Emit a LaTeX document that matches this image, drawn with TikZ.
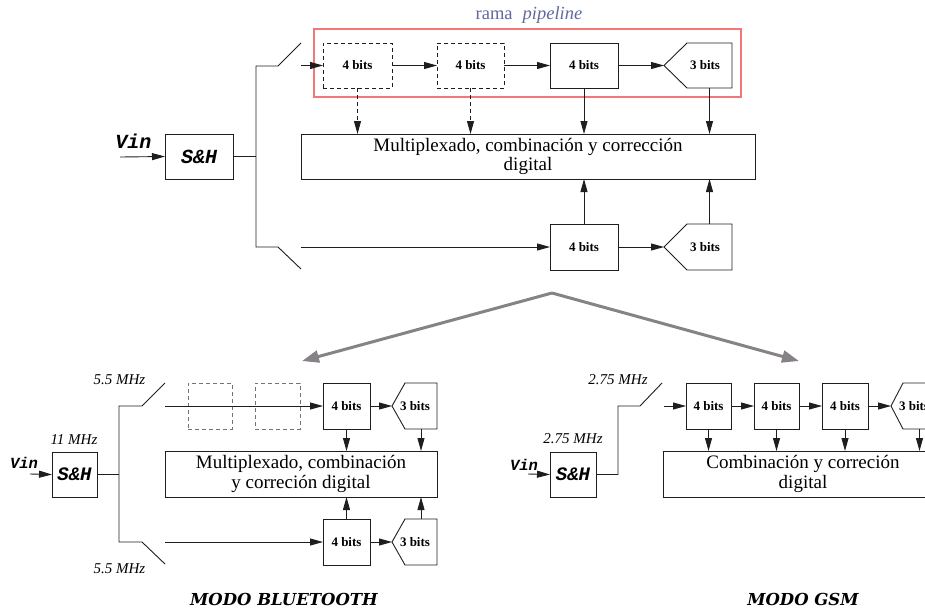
\documentclass[tikz,border=0pt]{standalone}
\usepackage{fontspec}
\setmainfont{Liberation Serif}
\newfontfamily\courfont{Liberation Mono}
\newfontfamily\heavyfont{DejaVu Serif}
\usetikzlibrary{arrows.meta,calc}
\definecolor{redline}{RGB}{240,120,120}
\definecolor{ramacol}{RGB}{95,105,160}
\definecolor{bigarrow}{RGB}{135,130,135}
\definecolor{ink}{RGB}{30,30,30}
% pentagon: name, tipx, cornerx, rightx, topy, boty, textx
\newcommand\pentbox[7]{%
  \coordinate (#1-tip) at (#2,{(#5+#6)/2});
  \draw[wire] (#3,#5) -- (#4,#5) -- (#4,#6) -- (#3,#6) -- (#1-tip) -- cycle;
  \coordinate (#1-n) at ({(#3+#4)/2},#5);
  \coordinate (#1-s) at ({(#3+#4)/2},#6);
  \node[bits] (#1) at (#7,{(#5+#6)/2}) {3 bits};}
\begin{document}
\begin{tikzpicture}[x=1pt,y=-1pt,
  wire/.style={draw=ink, line width=0.9pt},
  box/.style={draw=ink, line width=0.9pt, rectangle, inner sep=0pt, outer sep=0pt},
  dbox/.style={box, dash pattern=on 4pt off 3pt},
  bits/.style={font=\fontsize{13}{13}\selectfont\bfseries, inner sep=0pt},
  arr/.style={draw=ink, line width=0.9pt, -{Triangle[length=13pt,width=7pt]}},
  darr/.style={arr, dash pattern=on 4pt off 3pt},
  bigarr/.style={draw=bigarrow, line width=3pt, -{Triangle[length=17pt,width=12pt]}},
  shbig/.style={font=\courfont\fontsize{20}{20}\selectfont\bfseries\itshape},
  shsmall/.style={font=\courfont\fontsize{19}{19}\selectfont\bfseries\itshape},
  vinbig/.style={font=\courfont\fontsize{20}{20}\selectfont\bfseries\itshape, anchor=base, inner sep=0pt},
  vinsmall/.style={font=\courfont\fontsize{15.5}{15.5}\selectfont\bfseries\itshape, anchor=base, inner sep=0pt},
  mhz/.style={font=\fontsize{15}{15}\selectfont\itshape, anchor=base, inner sep=0pt},
  mode/.style={font=\heavyfont\fontsize{16.5}{16.5}\selectfont\bfseries\itshape, anchor=base, inner sep=0pt},
  muxtext/.style={font=\fontsize{19}{19.5}\selectfont, align=center}
]
\useasboundingbox (0,0) rectangle (925,611);
\clip (0,0) rectangle (925,611);

% ================= TOP DIAGRAM =================
\draw[draw=redline, line width=1.3pt] (314,29) rectangle (741,97);
\node[anchor=base, font=\fontsize{18.5}{18.5}\selectfont, text=ramacol, inner sep=0pt] (rama) at (529,19) {rama\hspace{10pt}\textit{pipeline}};

\node[vinbig] (vin1) at (133.5,148) {Vin};
\coordinate (vin1s) at (120,157);
\node[box, minimum width=68pt, minimum height=45pt, shbig] (sh1) at (199,156.5) {S\&H};
\coordinate (j1) at (256,156.5);
\coordinate (j1t) at (256,66);
\coordinate (j1b) at (256,247);
\coordinate (s1t) at (278,66);
\coordinate (s1tt) at (301,43);
\coordinate (s1b) at (278,247);
\coordinate (s1bb) at (301,269);
\coordinate (in1t) at (301,65.5);
\coordinate (in1b) at (301,247);

\draw[arr] (vin1s) -- (sh1.west);
\draw[wire] (sh1.east) -- (j1);
\draw[wire] (s1tt) -- (s1t) -- (j1t) -- (j1b) -- (s1b) -- (s1bb);

\node[dbox, minimum width=69pt, minimum height=45pt, bits] (d1) at (357.5,65.5) {4 bits};
\node[dbox, minimum width=67pt, minimum height=45pt, bits] (d2) at (470.5,65.5) {4 bits};
\node[box, minimum width=68pt, minimum height=45pt, bits] (b1) at (584,65.5) {4 bits};
\pentbox{p1}{664}{687}{732}{43}{88}{705}

\node[box, minimum width=454pt, minimum height=45pt, muxtext] (mux1) at (528,156.5) {Multiplexado, combinación y corrección\\digital};

\node[box, minimum width=68pt, minimum height=46pt, bits] (b2) at (584,247) {4 bits};
\pentbox{p2}{664}{687}{732}{224}{270}{705}

\draw[arr] (in1t) -- (d1.west);
\draw[arr] (d1.east) -- (d2.west);
\draw[arr] (d2.east) -- (b1.west);
\draw[arr] (b1.east) -- (p1-tip);
\draw[darr] (d1.south) -- (d1.south |- mux1.north);
\draw[darr] (d2.south) -- (d2.south |- mux1.north);
\draw[arr] (b1.south) -- (b1.south |- mux1.north);
\draw[arr] (p1-s) -- (p1-s |- mux1.north);
\draw[arr] (in1b) -- (b2.west);
\draw[arr] (b2.east) -- (p2-tip);
\draw[arr] (b2.north) -- (b2.north |- mux1.south);
\draw[arr] (p2-n) -- (p2-n |- mux1.south);

% ================= BIG GREY ARROWS =================
\coordinate (apex) at (552,293);
\coordinate (lefttip) at (302,361);
\coordinate (righttip) at (799,361);
\draw[bigarr] (apex) -- (lefttip);
\draw[bigarr] (apex) -- (righttip);

% ================= BLUETOOTH =================
\node[mhz] (f1) at (119.5,384) {5.5 MHz};
\node[mhz] (f2) at (74,444) {11 MHz};
\node[mhz] (f3) at (119.5,573) {5.5 MHz};
\node[vinsmall] (vin2) at (24,468) {Vin};
\coordinate (vin2s) at (30,474);
\node[box, minimum width=45pt, minimum height=45pt, shsmall] (sh2) at (74.5,474.5) {S\&H};
\coordinate (j2) at (119,474.5);
\coordinate (j2t) at (119,406);
\coordinate (j2b) at (119,542);
\coordinate (s2t) at (142,406);
\coordinate (s2tt) at (165,383);
\coordinate (s2b) at (142,542);
\coordinate (s2bb) at (165,564);
\coordinate (in2t) at (165,406);
\coordinate (in2b) at (165,542);
\draw[arr] (vin2s) -- (sh2.west);
\draw[wire] (sh2.east) -- (j2);
\draw[wire] (s2tt) -- (s2t) -- (j2t) -- (j2b) -- (s2b) -- (s2bb);

\node[dbox, draw=black!55, minimum width=44pt, minimum height=46pt] (d3) at (210,406) {};
\node[dbox, draw=black!55, minimum width=45pt, minimum height=46pt] (d4) at (277.5,406) {};
\node[box, minimum width=47pt, minimum height=46pt, bits] (b3) at (346.5,406) {4 bits};
\pentbox{p3}{392}{405}{437}{383}{429}{415}
\node[box, minimum width=272pt, minimum height=46pt, muxtext] (mux2) at (301,474) {Multiplexado, combinación\\y correción digital};
\node[box, minimum width=47pt, minimum height=46pt, bits] (b4) at (346.5,542) {4 bits};
\pentbox{p4}{392}{405}{437}{519}{565}{415}

\draw[arr] (in2t) -- (b3.west);
\draw[arr] (b3.east) -- (p3-tip);
\draw[arr] (b3.south) -- (b3.south |- mux2.north);
\draw[arr] (p3-s) -- (p3-s |- mux2.north);
\draw[arr] (in2b) -- (b4.west);
\draw[arr] (b4.east) -- (p4-tip);
\draw[arr] (b4.north) -- (b4.north |- mux2.south);
\draw[arr] (p4-n) -- (p4-n |- mux2.south);
\node[mode] (m1) at (284,605) {MODO BLUETOOTH};

% ================= GSM =================
\node[mhz] (f4) at (618,384) {2.75 MHz};
\node[mhz] (f5) at (573,443) {2.75 MHz};
\node[vinsmall] (vin3) at (524,470) {Vin};
\coordinate (vin3s) at (528,474);
\node[box, minimum width=46pt, minimum height=45pt, shsmall] (sh3) at (573,474.5) {S\&H};
\coordinate (k1) at (618,474.5);
\coordinate (k2) at (618,406);
\coordinate (k3) at (640,406);
\coordinate (k4) at (662,383);
\coordinate (in3) at (664,406);
\draw[arr] (vin3s) -- (sh3.west);
\draw[wire] (sh3.east) -- (k1) -- (k2) -- (k3) -- (k4);

\node[box, minimum width=45pt, minimum height=46pt, bits] (g1) at (708.5,406) {4 bits};
\node[box, minimum width=45pt, minimum height=46pt, bits] (g2) at (776.5,406) {4 bits};
\node[box, minimum width=46pt, minimum height=46pt, bits] (g3) at (845,406) {4 bits};
\pentbox{p5}{891}{903}{936}{383}{429}{914}
\node[box, minimum width=280pt, minimum height=46pt, muxtext] (mux3) at (803,474) {Combinación y correción\\digital};

\draw[arr] (in3) -- (g1.west);
\draw[arr] (g1.east) -- (g2.west);
\draw[arr] (g2.east) -- (g3.west);
\draw[arr] (g3.east) -- (p5-tip);
\draw[arr] (g1.south) -- (g1.south |- mux3.north);
\draw[arr] (g2.south) -- (g2.south |- mux3.north);
\draw[arr] (g3.south) -- (g3.south |- mux3.north);
\draw[arr] (p5-s) -- (p5-s |- mux3.north);
\node[mode] (m2) at (803,605) {MODO GSM};
\end{tikzpicture}
\end{document}
